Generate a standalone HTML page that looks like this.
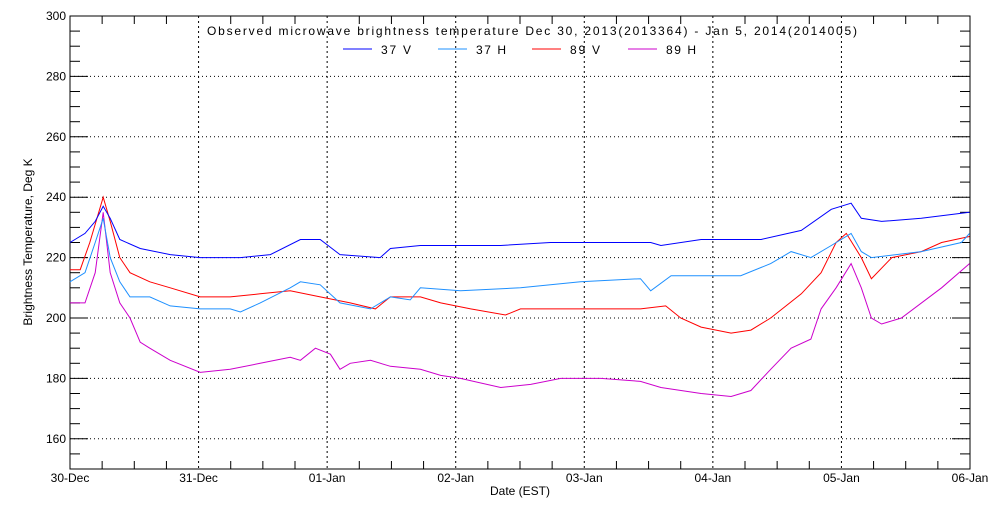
<!DOCTYPE html>
<html><head><meta charset="utf-8"><style>
body{margin:0;background:#fff;}
svg text{font-family:"Liberation Sans",sans-serif;font-size:12px;fill:#000;}
</style></head><body>
<svg id="chart" width="1000" height="500" xmlns="http://www.w3.org/2000/svg"></svg>
<script>
const xTickLabels=["30-Dec","31-Dec","01-Jan","02-Jan","03-Jan","04-Jan","05-Jan","06-Jan"];
const yTicks=[160,180,200,220,240,260,280,300];
const seriesNames=["37 V","37 H","89 V","89 H"];
const seriesColors=["#0000ff","#1e90ff","#ff0000","#cc00cc"];
// x positions expressed in hours since 30-Dec 00:00
const hours37V=[0,2.8,4.7,6.2,7.5,9.3,13.1,18.7,24.3,31.8,37.4,43,46.7,50.4,57.9,59.8,65.4,72.9,80.4,89.7,99.1,108.4,110.3,117.8,129,136.5,142.1,145.8,147.7,151.5,158.9,167.9];
const v37V=[225,228,232,237,233,226,223,221,220,220,221,226,226,221,220,223,224,224,224,225,225,225,224,226,226,229,236,238,233,232,233,235];
const hours37H=[0,2.8,4.7,6.2,7.5,9.3,11.2,14.9,18.7,24.3,29.9,31.8,35.5,41.1,43,46.7,50.4,56.1,59.8,63.5,65.4,72.9,84.1,95.3,106.5,108.4,112.2,125.2,130.8,134.6,138.3,142.1,145.8,147.7,149.6,158.9,166.4,167.9];
const v37H=[212,215,225,233,220,212,207,207,204,203,203,202,205,210,212,211,205,203,207,206,210,209,210,212,213,209,214,214,218,222,220,224,228,222,220,222,225,228];
const hours89V=[0,1.9,3.7,6.2,7.5,9.3,11.2,14.9,18.7,24.3,29.9,35.5,41.1,46.7,52.3,57,59.8,65.4,69.2,74.8,81.3,84.1,91.6,99.1,106.5,111.2,114,117.8,123.4,127.1,130.8,136.5,140.2,143,144.9,147.7,149.6,153.4,158.9,162.7,167.9];
const v89V=[216,216,225,240,232,220,215,212,210,207,207,208,209,207,205,203,207,207,205,203,201,203,203,203,203,204,200,197,195,196,200,208,215,225,228,220,213,220,222,225,227];
const hours89H=[0,2.8,4.7,6.2,7.5,9.3,11.2,13.1,14.9,18.7,24.3,29.9,35.5,41.1,43,45.8,48.6,50.4,52.3,56.1,59.8,65.4,69.2,72.9,80.4,86,91.6,99.1,106.5,110.3,117.8,123.4,127.1,130.8,134.6,138.3,140.2,143,145.8,147.7,149.6,151.5,155.2,162.7,167.9];
const v89H=[205,205,215,235,215,205,200,192,190,186,182,183,185,187,186,190,188,183,185,186,184,183,181,180,177,178,180,180,179,177,175,174,176,183,190,193,203,210,218,210,200,198,200,210,218];

const svg=document.getElementById('chart');
const NS='http://www.w3.org/2000/svg';
const L=70,R=970,T=16,B=469,YMIN=150,YMAX=300,HMAX=168;
const xs=h=>L+(R-L)*h/HMAX;
const ys=v=>B-(B-T)*(v-YMIN)/(YMAX-YMIN);
function mk(tag,attrs,parent){const e=document.createElementNS(NS,tag);for(const k in attrs)e.setAttribute(k,attrs[k]);(parent||svg).appendChild(e);return e;}

const grid=mk('g',{});


yTicks.forEach(v=>{mk('line',{x1:L,x2:R,y1:ys(v),y2:ys(v),stroke:'#000','stroke-dasharray':'1,3'},grid);});
xTickLabels.forEach((t,i)=>{mk('line',{x1:xs(i*24),x2:xs(i*24),y1:T,y2:B,stroke:'#000','stroke-dasharray':'2,3'},grid);});

const ax=mk('g',{});


mk('rect',{x:L,y:T,width:R-L,height:B-T,fill:'none',stroke:'#000'},ax);
for(let v=YMIN;v<=YMAX;v+=5){const len=(v%20===0)?18:10;mk('line',{x1:L,x2:L+len,y1:ys(v),y2:ys(v),stroke:'#000'},ax);mk('line',{x1:R,x2:R-len,y1:ys(v),y2:ys(v),stroke:'#000'},ax);}
for(let h=0;h<=HMAX;h+=6){const len=(h%24===0)?0:8;mk('line',{x1:xs(h),x2:xs(h),y1:B,y2:B-len,stroke:'#000'},ax);mk('line',{x1:xs(h),x2:xs(h),y1:T,y2:T+len,stroke:'#000'},ax);}
yTicks.forEach(v=>{const t=mk('text',{x:L-4,y:ys(v)+4,'text-anchor':'end'},ax);t.textContent=v;

});
xTickLabels.forEach((s,i)=>{const t=mk('text',{x:xs(i*24),y:B+13,'text-anchor':'middle'},ax);t.textContent=s;

});

const xt=mk('text',{x:520,y:495,'text-anchor':'middle'});xt.textContent='Date (EST)';


const yt=mk('text',{x:32,y:242,'text-anchor':'middle',transform:'rotate(-90 32 242)'});yt.textContent='Brightness Temperature, Deg K';


const tt=mk('text',{x:207,y:35,textLength:650,lengthAdjust:'spacing'});tt.textContent='Observed microwave brightness temperature Dec 30, 2013(2013364) - Jan  5, 2014(2014005)';


tt.setAttribute('xml:space','preserve');

const allH=[hours37V,hours37H,hours89V,hours89H],allV=[v37V,v37H,v89V,v89H];
[3,2,1,0].forEach(i=>{
  const pts=allH[i].map((h,j)=>xs(h).toFixed(1)+','+ys(allV[i][j]).toFixed(1)).join(' ');
  const p=mk('polyline',{points:pts,fill:'none',stroke:seriesColors[i],'stroke-width':1});
  
  
});
const legX=[343,438,532,628];
seriesNames.forEach((n,i)=>{
  const g=mk('g',{});
  
  
  mk('line',{x1:legX[i],x2:legX[i]+29,y1:49,y2:49,stroke:seriesColors[i]},g);
  const t=mk('text',{x:legX[i]+38,y:54,textLength:30,lengthAdjust:'spacing'},g);t.textContent=n;
});
</script>
</body></html>
